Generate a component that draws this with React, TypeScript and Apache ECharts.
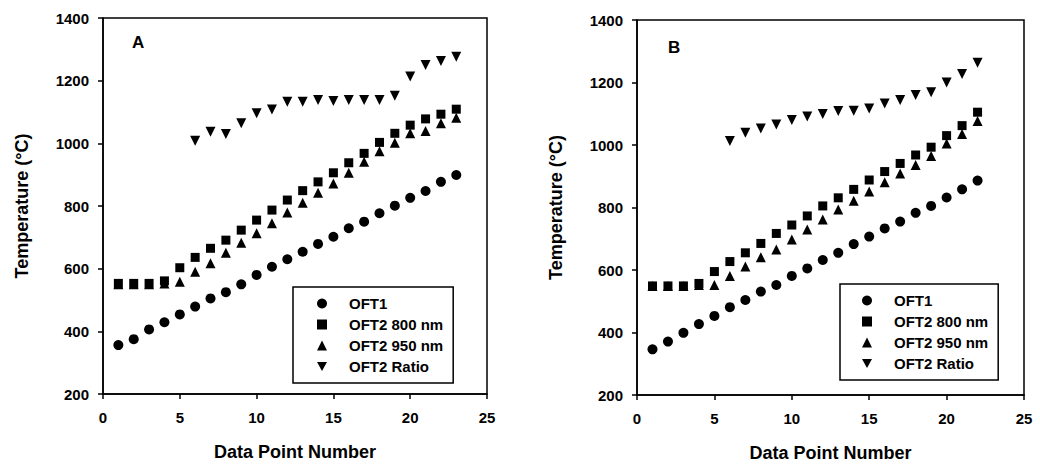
import React, { useEffect, useRef } from "react";
import * as echarts from "echarts";

const pointsA = [1, 2, 3, 4, 5, 6, 7, 8, 9, 10, 11, 12, 13, 14, 15, 16, 17, 18, 19, 20, 21, 22, 23];
const oft1A = [356, 375, 406, 429, 454, 479, 505, 525, 550, 580, 606, 630, 654, 679, 702, 729, 750, 777, 801, 826, 848, 877, 899];
const oft2_800A = [553, 553, 553, 561, 603, 636, 665, 691, 723, 755, 787, 819, 849, 877, 906, 938, 968, 1003, 1032, 1058, 1078, 1093, 1109];
const oft2_950A = [550, 550, 550, 553, 558, 590, 617, 651, 683, 713, 745, 779, 810, 842, 872, 906, 941, 975, 1002, 1032, 1039, 1064, 1082];
const ratioPointsA = [6, 7, 8, 9, 10, 11, 12, 13, 14, 15, 16, 17, 18, 19, 20, 21, 22, 23];
const ratioA = [1008, 1037, 1030, 1064, 1096, 1108, 1133, 1133, 1138, 1135, 1138, 1138, 1138, 1152, 1213, 1250, 1263, 1276];

const pointsB = [1, 2, 3, 4, 5, 6, 7, 8, 9, 10, 11, 12, 13, 14, 15, 16, 17, 18, 19, 20, 21, 22];
const oft1B = [346, 371, 399, 427, 453, 481, 504, 531, 552, 581, 605, 632, 655, 683, 707, 733, 755, 783, 805, 832, 858, 886];
const oft2_800B = [549, 549, 549, 557, 595, 627, 655, 685, 717, 744, 773, 805, 831, 858, 888, 915, 941, 968, 993, 1030, 1062, 1105];
const oft2_950B = [549, 549, 549, 552, 552, 581, 611, 641, 666, 698, 730, 762, 794, 822, 851, 881, 909, 936, 965, 1005, 1035, 1077];
const ratioPointsB = [6, 7, 8, 9, 10, 11, 12, 13, 14, 15, 16, 17, 18, 19, 20, 21, 22];
const ratioB = [1013, 1039, 1053, 1066, 1080, 1091, 1099, 1109, 1110, 1117, 1133, 1144, 1160, 1169, 1200, 1227, 1263];

const seriesNames = ["OFT1", "OFT2 800 nm", "OFT2 950 nm", "OFT2 Ratio"];
const xTicks = { min: 0, max: 25, interval: 5 };
const yTicks = { min: 200, max: 1400, interval: 200 };
const panelLabels = ["A", "B"];

const FONT = "'Liberation Sans', Arial, sans-serif";
const DOWN_TRI = "path://M0,0L10,0L5,9Z";

const pair = (xs: number[], ys: number[]) => xs.map((x, i) => [x, ys[i]]);

export default function App() {
  const ref = useRef<HTMLDivElement>(null);
  useEffect(() => {
    if (!ref.current) return;
    const chart = echarts.init(ref.current, null, { renderer: "svg" });

    const grids = [
      { left: 103, top: 18, width: 384, height: 376 },
      { left: 637, top: 20, width: 387, height: 375 },
    ];

    const xAxis = grids.map((_, i) => ({
      type: "value",
      gridIndex: i,
      ...xTicks,
      name: "Data Point Number",
      nameLocation: "middle",
      nameGap: 49,
      nameTextStyle: { fontFamily: FONT, fontWeight: "bold", fontSize: 18, color: "#000" },
      axisLine: { show: true, onZero: false, lineStyle: { color: "#000", width: 1.5 } },
      axisTick: { show: true, inside: false, length: 5, lineStyle: { color: "#000", width: 1.5 } },
      axisLabel: { fontFamily: FONT, fontWeight: "bold", fontSize: 15, color: "#000", margin: 16, formatter: (v: number) => String(v) },
      splitLine: { show: false },
    }));

    const yAxis = grids.map((_, i) => ({
      type: "value",
      gridIndex: i,
      ...yTicks,
      name: "Temperature (°C)",
      nameLocation: "middle",
      nameGap: 72,
      nameTextStyle: { fontFamily: FONT, fontWeight: "bold", fontSize: 18, color: "#000" },
      axisLine: { show: true, onZero: false, lineStyle: { color: "#000", width: 1.5 } },
      axisTick: { show: true, inside: false, length: 5, lineStyle: { color: "#000", width: 1.5 } },
      axisLabel: { fontFamily: FONT, fontWeight: "bold", fontSize: 15, color: "#000", margin: 14, formatter: (v: number) => String(v) },
      splitLine: { show: false },
    }));

    const mk = (name: string, data: number[][], idx: number, symbol: string, size: number) => ({
      name,
      type: "scatter",
      xAxisIndex: idx,
      yAxisIndex: idx,
      data,
      symbol,
      symbolSize: size,
      itemStyle: { color: "#000", opacity: 1 },
      emphasis: { disabled: true },
    });

    const series = [
      mk(seriesNames[0], pair(pointsA, oft1A), 0, "circle", 10),
      mk(seriesNames[2], pair(pointsA, oft2_950A), 0, "triangle", 10),
      mk(seriesNames[1], pair(pointsA, oft2_800A), 0, "rect", 9),
      mk(seriesNames[3], pair(ratioPointsA, ratioA), 0, DOWN_TRI, 10),
      mk(seriesNames[0], pair(pointsB, oft1B), 1, "circle", 10),
      mk(seriesNames[2], pair(pointsB, oft2_950B), 1, "triangle", 10),
      mk(seriesNames[1], pair(pointsB, oft2_800B), 1, "rect", 9),
      mk(seriesNames[3], pair(ratioPointsB, ratioB), 1, DOWN_TRI, 10),
    ];

    const legendBase = {
      orient: "vertical",
      data: seriesNames,
      itemWidth: 10,
      itemHeight: 10,
      itemGap: 6,
      selectedMode: false,
      borderColor: "#000",
      borderWidth: 1.5,
      backgroundColor: "#fff",
      itemStyle: { opacity: 1 },
      textStyle: { fontFamily: FONT, fontWeight: "bold", fontSize: 15, color: "#000", padding: [0, 0, 0, 17] },
    };

    const option = {
      animation: false,
      backgroundColor: "#fff",
      grid: grids.map((g) => ({ ...g, show: true, borderColor: "#000", borderWidth: 1.5, backgroundColor: "transparent" })),
      xAxis,
      yAxis,
      series,
      legend: [
        { ...legendBase, left: 293, top: 287, padding: [9, 10, 9, 24] },
        { ...legendBase, left: 840, top: 284, padding: [9, 10, 9, 22] },
      ],
      graphic: [
        { type: "text", left: 132, top: 34, style: { text: panelLabels[0], font: `bold 17px ${FONT}`, fill: "#000" } },
        { type: "text", left: 668, top: 39, style: { text: panelLabels[1], font: `bold 17px ${FONT}`, fill: "#000" } },
      ],
    };

    chart.setOption(option as any);
    return () => chart.dispose();
  }, []);

  return (
    <div
      ref={ref}
      style={{ position: "fixed", left: 0, top: 0, width: 1040, height: 468, background: "#fff" }}
    />
  );
}
